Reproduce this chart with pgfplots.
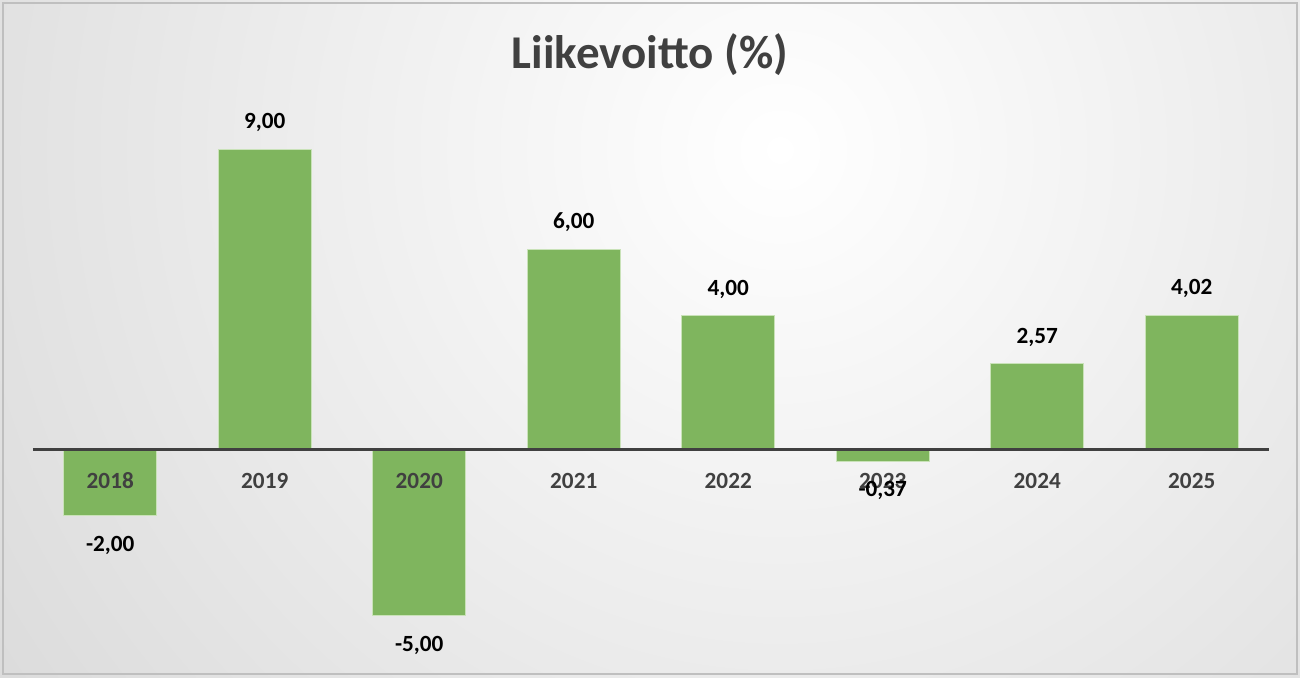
\documentclass[border=0pt]{standalone}
\usepackage{pgfplots}
\pgfplotsset{compat=1.18}
\usepackage{fontspec}
\setmainfont{Carlito}
\definecolor{barfill}{HTML}{7FB55E}
\definecolor{barline}{HTML}{C9E2B8}
\definecolor{txtgray}{HTML}{404040}
\definecolor{bgouter}{HTML}{C3C3C3}
\definecolor{framec}{HTML}{BFBFBF}
\begin{document}
\begin{tikzpicture}
\useasboundingbox (0,0) rectangle (650pt,338.5pt);
\begin{scope}
\clip (0,0) rectangle (650pt,338.5pt);
\shade[inner color=white, outer color=bgouter] (390pt,263.5pt) circle (800pt);
\end{scope}
\draw[framec, line width=0.8pt] (1.5pt,1.5pt) rectangle (648.5pt,337pt);
\node[font=\fontsize{23.5}{28}\selectfont\bfseries, text=txtgray, anchor=base, inner sep=0pt] at (325pt,304.5pt) {Liikevoitto (\%)};
\begin{axis}[
 at={(16.5pt,14pt)}, anchor=south west,
 scale only axis, width=618pt, height=266.5pt,
 xmin=-0.5, xmax=7.5, ymin=-6, ymax=10,
 axis x line=middle, axis y line=none,
 x axis line style={-, draw=txtgray, line width=1.5pt},
 xtick={0,1,2,3,4,5,6,7},
 xticklabels={2018,2019,2020,2021,2022,2023,2024,2025},
 major tick length=0pt,
 xticklabel style={font=\fontsize{11.6}{14}\selectfont\bfseries, text=txtgray, anchor=base, yshift=-19.5pt, inner sep=0pt},
 ybar, bar width=46.5pt,
 /pgf/number format/assume math mode=true,
 nodes near coords={\pgfmathprintnumber[fixed,fixed zerofill,precision=2,use comma]{\pgfplotspointmeta}},
 every node near coord/.append style={font=\fontsize{11.6}{14}\selectfont\bfseries, text=black, inner ysep=10pt, text height=7.5pt, text depth=0pt},
 axis on top,
 clip=false,
]
\addplot[fill=barfill, draw=barline, line width=0.5pt] coordinates {(0,-2) (1,9) (2,-5) (3,6) (4,4) (5,-0.37) (6,2.57) (7,4.02)};
\end{axis}
\end{tikzpicture}
\end{document}
